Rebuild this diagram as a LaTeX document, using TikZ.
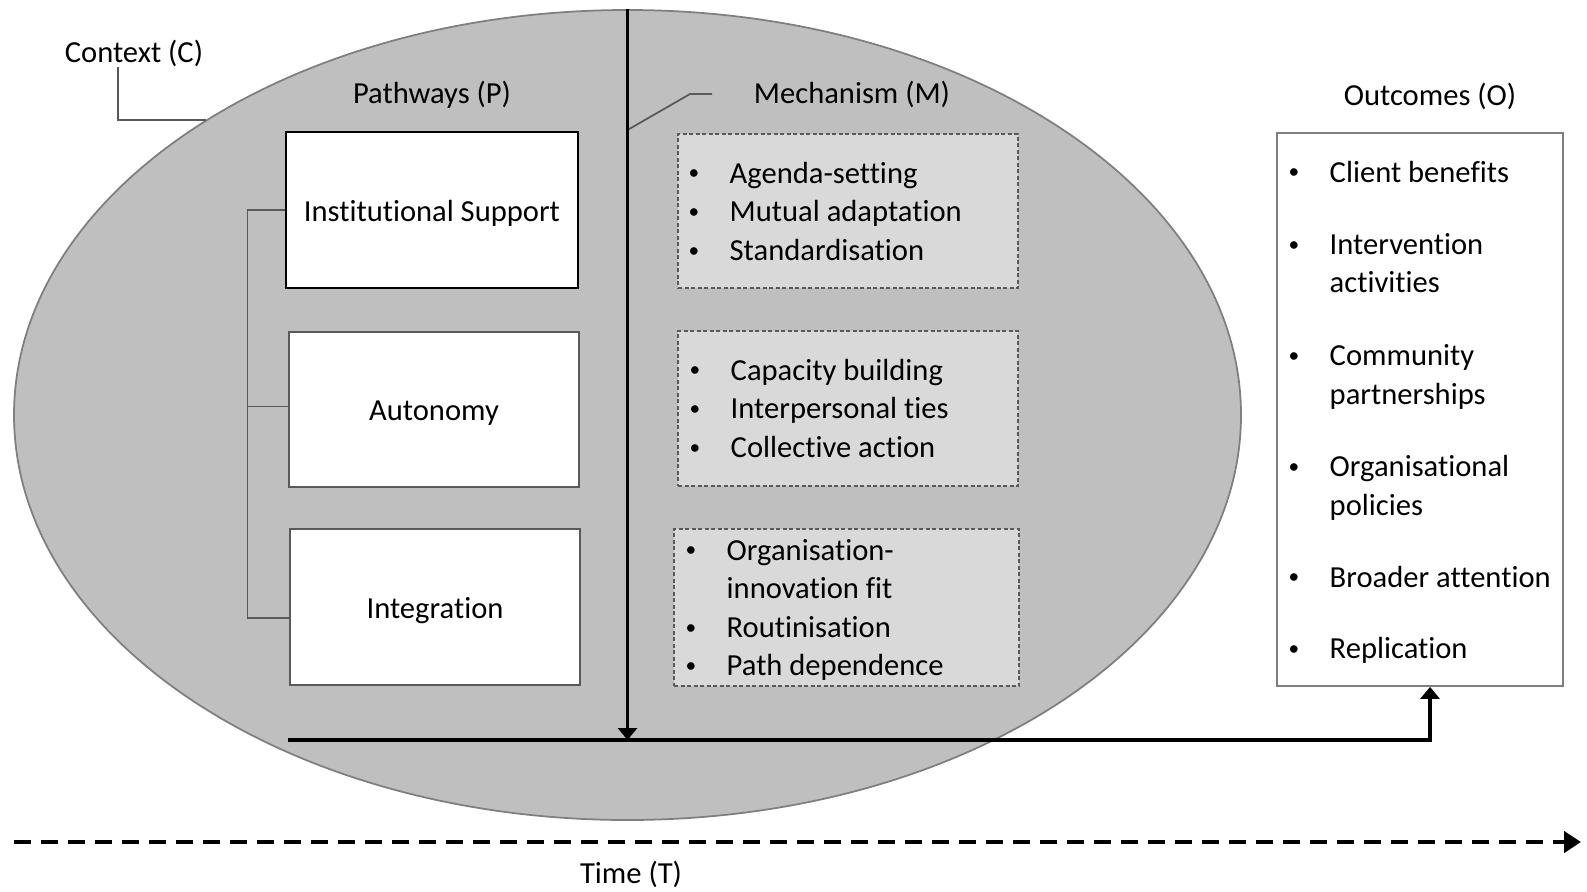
\documentclass[tikz,border=0pt]{standalone}
\usepackage{fontspec}
\setmainfont{Carlito}[Ligatures=NoCommon]
\usepackage{graphicx}
\usepackage{tikz}
\usetikzlibrary{shapes.geometric,arrows.meta}

\definecolor{ctxgray}{HTML}{BFBFBF}
\definecolor{mechgray}{HTML}{D9D9D9}
\definecolor{edgegray}{HTML}{7F7F7F}
\definecolor{leadgray}{HTML}{595959}
\newcommand{\bdot}{\raisebox{0.9pt}{\scalebox{0.7}{•}}}

\begin{document}
\begin{tikzpicture}[x=0.1mm, y=-0.1mm, font=\fontsize{8.7}{11}\selectfont,
    title/.style = {inner sep=0pt},
    pbox/.style = {draw=leadgray, line width=0.6pt, fill=white, inner sep=0pt, text height=0.85em, text depth=0.2em},
    mbox/.style = {draw=leadgray, line width=0.4pt, dash pattern=on 0.4mm off 0.25mm, fill=mechgray, inner sep=0pt},
    obox/.style = {draw=edgegray, line width=0.5pt, fill=white, inner sep=0pt},
    blist/.style = {anchor=base west, inner sep=0pt, align=left},
    lead/.style = {draw=leadgray, line width=0.5pt},
    flow/.style = {line width=0.9pt, -{Triangle[length=1.2mm, width=1.9mm]}}]
% page size
\useasboundingbox (0,0) rectangle (1587,891);

% context
    \node[ellipse, draw=edgegray, line width=0.5pt, fill=ctxgray, inner sep=0pt,
          minimum width=122.7mm, minimum height=81mm] (ctx) at (627.5,415) {};
    \node[title] (ctxlbl) at (134,53) {Context (C)};
\draw[lead] (ctxlbl.south -| 118,75) |- (ctx.145.7);

% pathways
    \node[title] (plbl) at (432,95) {Pathways (P)};
    \node[pbox, draw=black, line width=0.8pt, minimum width=29.2mm, minimum height=15.6mm] (inst) at (432,210) {Institutional Support};
    \node[pbox, minimum width=29mm, minimum height=15.5mm] (auto) at (434,409.5) {Autonomy};
    \node[pbox, minimum width=29mm, minimum height=15.6mm] (integ) at (435,607) {Integration};
\draw[lead] (inst.west) -- ++(-37,0) coordinate (brk) |- ([yshift=-1.1mm]integ.west);
\draw[lead] ([yshift=0.3mm]auto.west) -- ([yshift=0.3mm]auto.west -| brk);

% mechanism
    \node[title] (mlbl) at (852,94) {Mechanism (M)};
    \node[mbox, minimum width=34mm, minimum height=15.4mm] (mb1) at (848,211) {};
    \node[mbox, minimum width=34mm, minimum height=15.5mm] (mb2) at (848,408.5) {};
    \node[mbox, minimum width=34.5mm, minimum height=15.7mm] (mb3) at (846.5,607.5) {};
    \node[blist] (ml1) at (688,183) {\begin{tabular}[t]{@{}p{4.1mm}@{}l@{}}
        \bdot & Agenda-setting\\ \bdot & Mutual adaptation\\ \bdot & Standardisation\end{tabular}};
    \node[blist] (ml2) at (689,380) {\begin{tabular}[t]{@{}p{4.1mm}@{}l@{}}
        \bdot & Capacity building\\ \bdot & Interpersonal ties\\ \bdot & Collective action\end{tabular}};
    \node[blist] (ml3) at (685,560) {\begin{tabular}[t]{@{}p{4.1mm}@{}l@{}}
        \bdot & Organisation-\\ & innovation fit\\ \bdot & Routinisation\\ \bdot & Path dependence\end{tabular}};
\coordinate (mk1) at (627.5,130);
\coordinate (mk2) at (690,94);
\coordinate (mk3) at (712,94);
\draw[lead] (mk1) -- (mk2) -- (mk3);

% outcomes
    \node[title] (olbl) at (1430,96) {Outcomes (O)};
    \node[obox, minimum width=28.6mm, minimum height=55.3mm] (ob) at (1420,409.5) {};
    \node[blist] (ol) at (1288,182) {\begin{tabular}[t]{@{}p{4.1mm}@{}l@{}}
        \bdot & Client benefits\\[3.35mm]
        \bdot & Intervention\\ & activities\\[3.4mm]
        \bdot & Community\\ & partnerships\\[3.4mm]
        \bdot & Organisational\\ & policies\\[3.3mm]
        \bdot & Broader attention\\[3.25mm]
        \bdot & Replication\end{tabular}};

% flow
\coordinate (tl) at (288,740);
\draw[flow] (ctx.north) -- (ctx.north |- tl);
\draw[flow, -] (tl) -- (ctx.north |- tl);
\draw[flow] (ctx.north |- tl) -| ([xshift=1mm]ob.south);

% time
\coordinate (t0) at (14,842);
\coordinate (t1) at (1581,842);
\draw[line width=1.3pt, dash pattern=on 1.7mm off 1mm, -{Triangle[length=1.7mm, width=2.1mm]}] (t0) -- (t1);
    \node[title] (tlbl) at (631,874) {Time (T)};

\end{tikzpicture}
\end{document}
